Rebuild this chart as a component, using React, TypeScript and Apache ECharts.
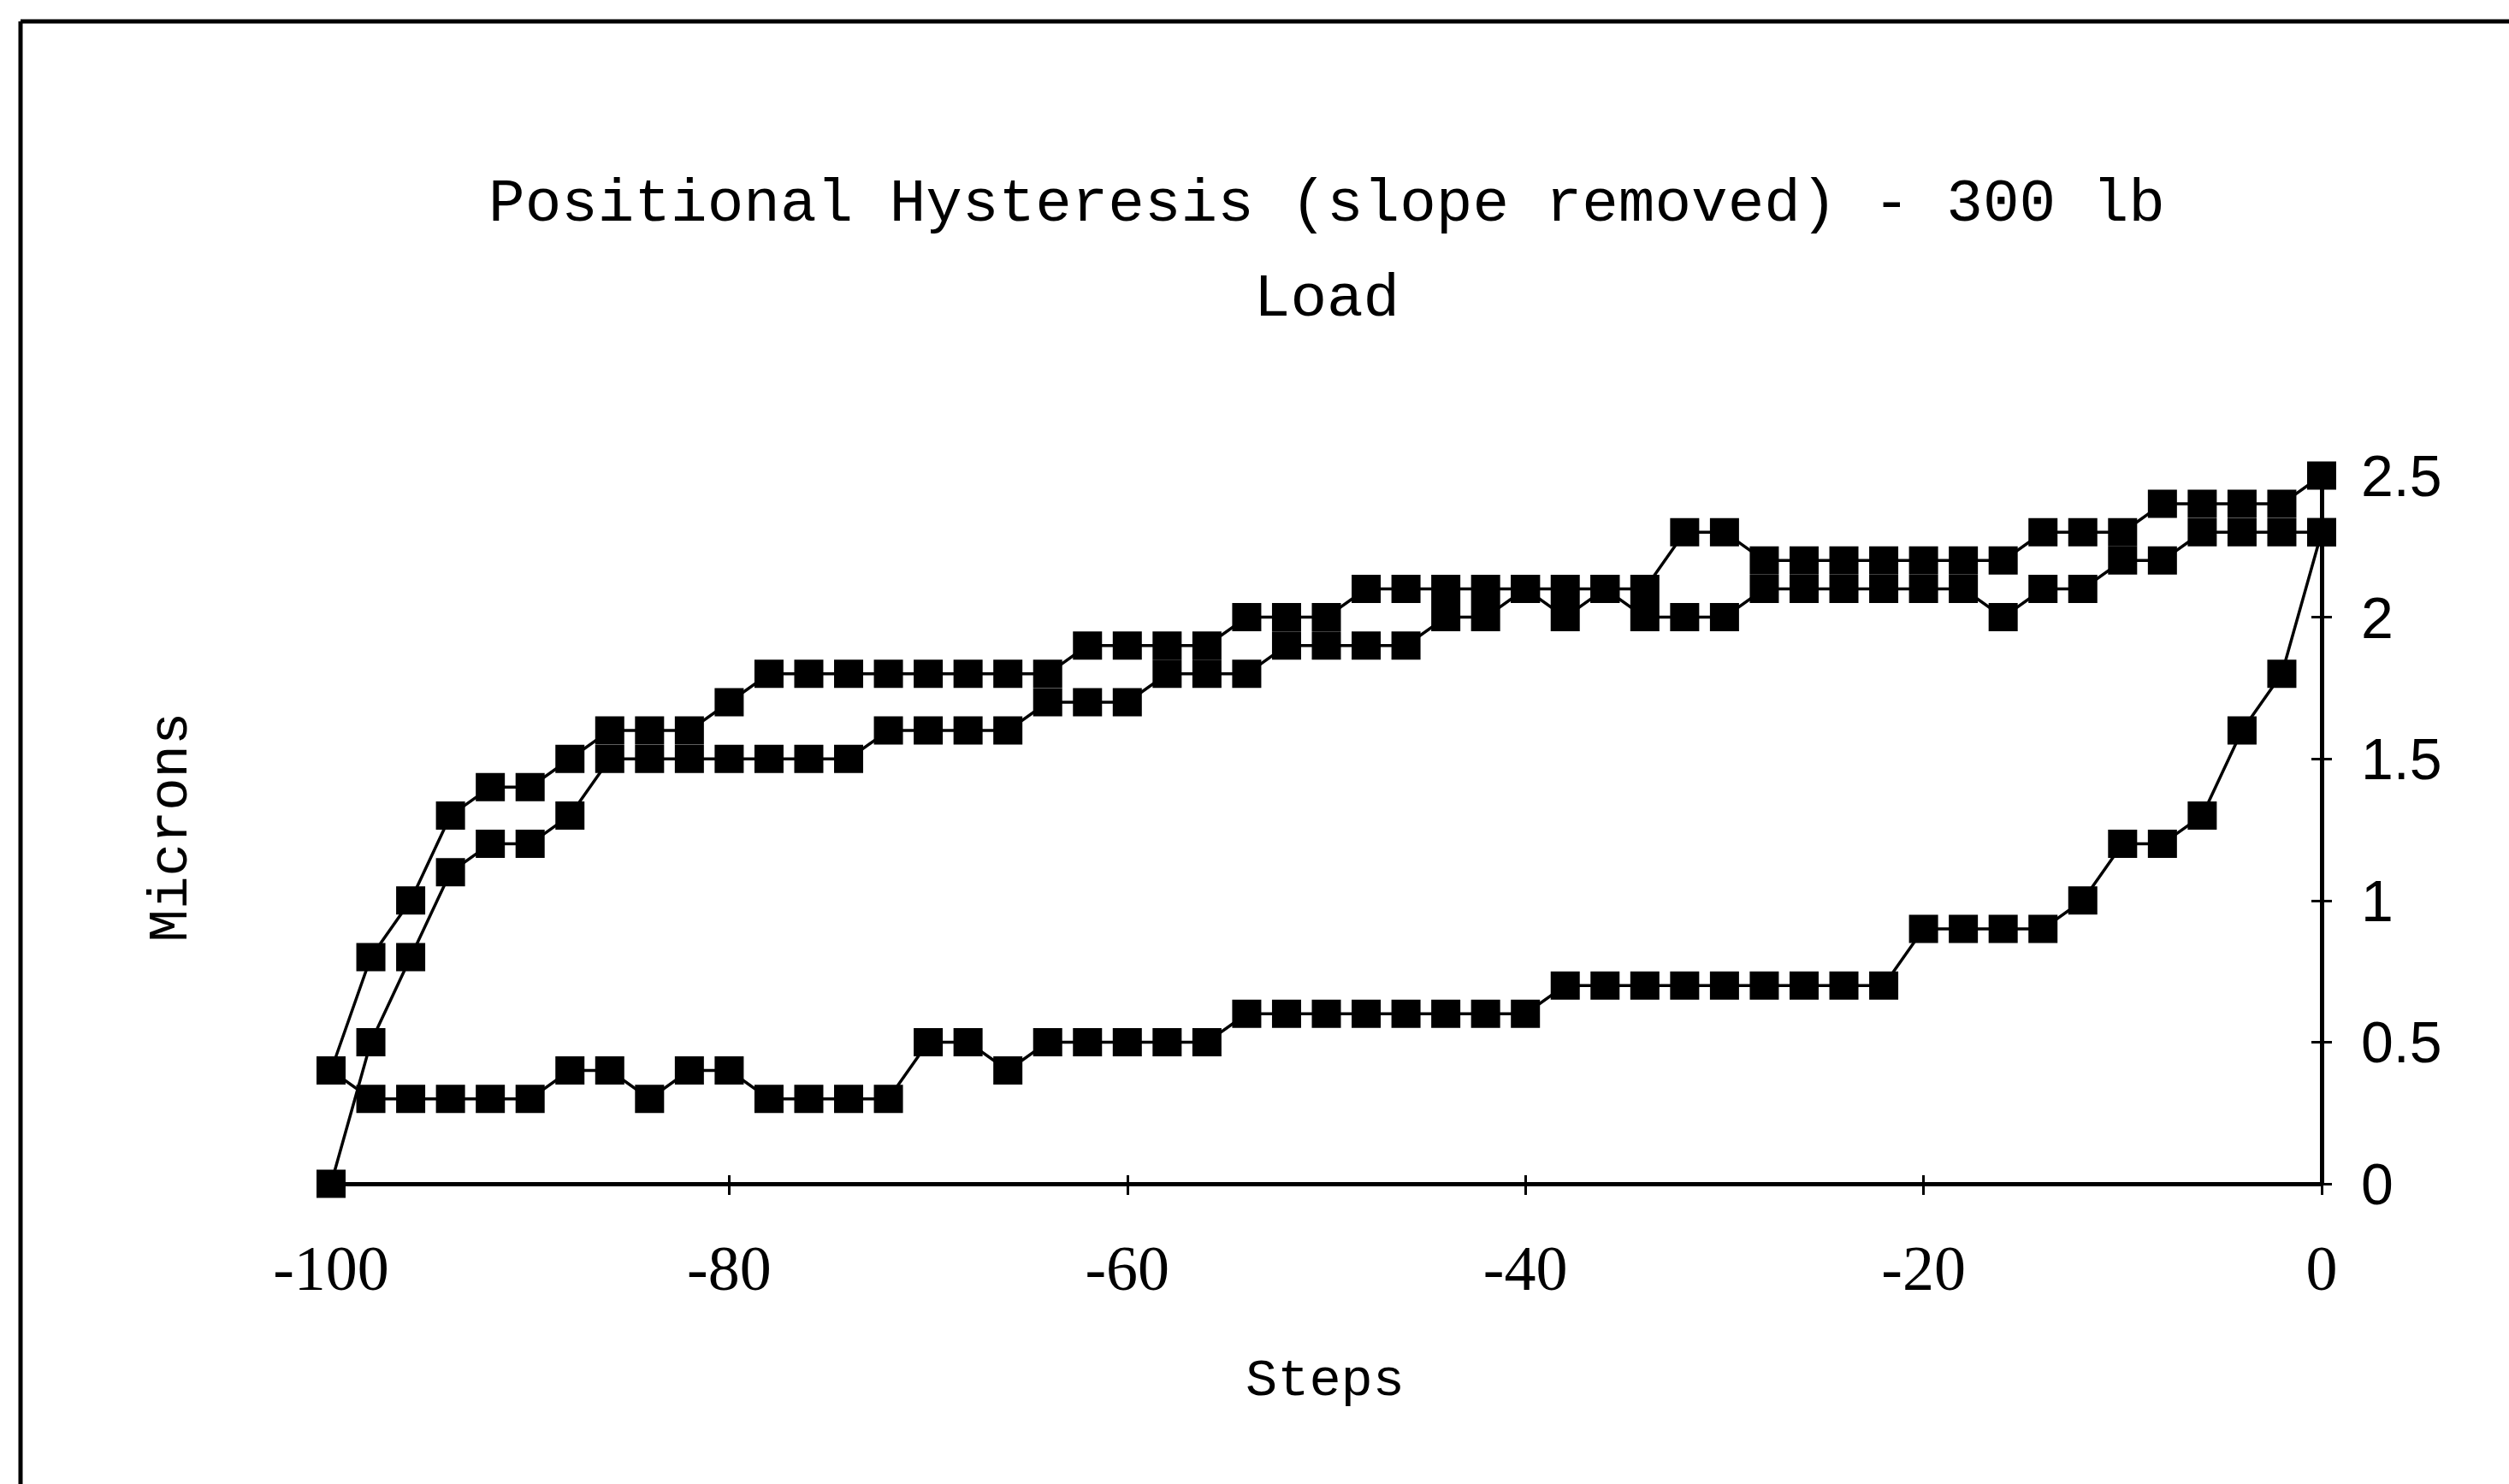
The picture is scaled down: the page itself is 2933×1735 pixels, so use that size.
import React, { useEffect, useRef } from "react";
import * as echarts from "echarts";

// Step positions (x axis)
const steps = [
  -100, -98, -96, -94, -92, -90, -88, -86, -84, -82,
  -80, -78, -76, -74, -72, -70, -68, -66, -64, -62,
  -60, -58, -56, -54, -52, -50, -48, -46, -44, -42,
  -40, -38, -36, -34, -32, -30, -28, -26, -24, -22,
  -20, -18, -16, -14, -12, -10, -8, -6, -4, -2, 0,
];

// Outer upper branch (ends at -100, 0.4)
const outerBranch = [
  0.4, 0.8, 1.0, 1.3, 1.4, 1.4, 1.5, 1.6, 1.6, 1.6,
  1.7, 1.8, 1.8, 1.8, 1.8, 1.8, 1.8, 1.8, 1.8, 1.9,
  1.9, 1.9, 1.9, 2.0, 2.0, 2.0, 2.1, 2.1, 2.1, 2.1,
  2.1, 2.1, 2.1, 2.1, 2.3, 2.3, 2.2, 2.2, 2.2, 2.2,
  2.2, 2.2, 2.2, 2.3, 2.3, 2.3, 2.4, 2.4, 2.4, 2.4, 2.5,
];

// Lower branch
const lowerBranch = [
  0.4, 0.3, 0.3, 0.3, 0.3, 0.3, 0.4, 0.4, 0.3, 0.4,
  0.4, 0.3, 0.3, 0.3, 0.3, 0.5, 0.5, 0.4, 0.5, 0.5,
  0.5, 0.5, 0.5, 0.6, 0.6, 0.6, 0.6, 0.6, 0.6, 0.6,
  0.6, 0.7, 0.7, 0.7, 0.7, 0.7, 0.7, 0.7, 0.7, 0.7,
  0.9, 0.9, 0.9, 0.9, 1.0, 1.2, 1.2, 1.3, 1.6, 1.8, 2.3,
];

// Inner upper branch (starts at -100, 0.0)
const innerBranch = [
  0.0, 0.5, 0.8, 1.1, 1.2, 1.2, 1.3, 1.5, 1.5, 1.5,
  1.5, 1.5, 1.5, 1.5, 1.6, 1.6, 1.6, 1.6, 1.7, 1.7,
  1.7, 1.8, 1.8, 1.8, 1.9, 1.9, 1.9, 1.9, 2.0, 2.0,
  2.1, 2.0, 2.1, 2.0, 2.0, 2.0, 2.1, 2.1, 2.1, 2.1,
  2.1, 2.1, 2.0, 2.1, 2.1, 2.2, 2.2, 2.3, 2.3, 2.3, 2.3,
];

const titleLines = ["Positional Hysteresis (slope removed) - 300 lb", "Load"];
const xAxisTitle = "Steps";
const yAxisTitle = "Microns";

const MONO = '"Liberation Mono", "DejaVu Sans Mono", monospace';

function makeSeries(name: string, values: number[]) {
  return {
    name,
    type: "line",
    data: steps.map((s, i) => [s, values[i]]),
    symbol: "rect",
    symbolSize: [34, 33],
    clip: false,
    itemStyle: { color: "#000" },
    lineStyle: { color: "#000", width: 3.5 },
    z: 5,
  };
}

export default function App() {
  const ref = useRef<HTMLDivElement>(null);

  useEffect(() => {
    if (!ref.current) return;
    const chart = echarts.init(ref.current, null, { renderer: "svg" });
    const xBase = {
      type: "value",
      min: -100,
      max: 0,
      interval: 20,
      position: "bottom",
      splitLine: { show: false },
    };
    const yBase = {
      type: "value",
      min: 0,
      max: 2.5,
      interval: 0.5,
      position: "right",
      splitLine: { show: false },
    };
    chart.setOption({
      animation: false,
      backgroundColor: "#fff",
      grid: { left: 387, right: 219, top: 556, bottom: 351 },
      xAxis: [
        {
          ...xBase,
          axisLine: { show: true, onZero: false, lineStyle: { color: "#000", width: 5 } },
          axisTick: { show: true, inside: false, length: 13, lineStyle: { color: "#000", width: 3 } },
          axisLabel: {
            show: true,
            margin: 62,
            color: "#000",
            fontSize: 74,
            fontFamily: '"Liberation Serif", serif',
          },
        },
        {
          ...xBase,
          axisLine: { show: false },
          axisTick: { show: true, inside: true, length: 10, lineStyle: { color: "#000", width: 3 } },
          axisLabel: { show: false },
        },
      ],
      yAxis: [
        {
          ...yBase,
          axisLine: { show: true, onZero: false, lineStyle: { color: "#000", width: 5 } },
          axisTick: { show: true, inside: false, length: 12, lineStyle: { color: "#000", width: 3 } },
          axisLabel: {
            show: true,
            margin: 46,
            color: "#000",
            fontSize: 68,
            fontFamily: '"Liberation Sans", sans-serif',
          },
        },
        {
          ...yBase,
          axisLine: { show: false },
          axisTick: { show: true, inside: true, length: 12, lineStyle: { color: "#000", width: 3 } },
          axisLabel: { show: false },
        },
      ],
      series: [
        makeSeries("Outer", outerBranch),
        makeSeries("Lower", lowerBranch),
        makeSeries("Inner", innerBranch),
      ],
      graphic: [
        {
          type: "line",
          shape: { x1: 24, y1: 25, x2: 2933, y2: 25 },
          style: { stroke: "#000", lineWidth: 5 },
        },
        {
          type: "line",
          shape: { x1: 24, y1: 25, x2: 24, y2: 1735 },
          style: { stroke: "#000", lineWidth: 5 },
        },
        {
          type: "text",
          x: 1551,
          y: 239,
          style: {
            text: titleLines[0],
            fontSize: 71,
            fontFamily: MONO,
            fill: "#000",
            align: "center",
            verticalAlign: "middle",
          },
        },
        {
          type: "text",
          x: 1551,
          y: 350,
          style: {
            text: titleLines[1],
            fontSize: 71,
            fontFamily: MONO,
            fill: "#000",
            align: "center",
            verticalAlign: "middle",
          },
        },
        {
          type: "text",
          x: 201,
          y: 967,
          rotation: Math.PI / 2,
          style: {
            text: yAxisTitle,
            fontSize: 64,
            fontFamily: MONO,
            fill: "#000",
            align: "center",
            verticalAlign: "middle",
          },
        },
        {
          type: "text",
          x: 1549,
          y: 1614,
          style: {
            text: xAxisTitle,
            fontSize: 62,
            fontFamily: MONO,
            fill: "#000",
            align: "center",
            verticalAlign: "middle",
          },
        },
      ],
    });
    return () => chart.dispose();
  }, []);

  return (
    <div
      ref={ref}
      style={{ position: "fixed", left: 0, top: 0, width: 2933, height: 1735, background: "#fff" }}
    />
  );
}
